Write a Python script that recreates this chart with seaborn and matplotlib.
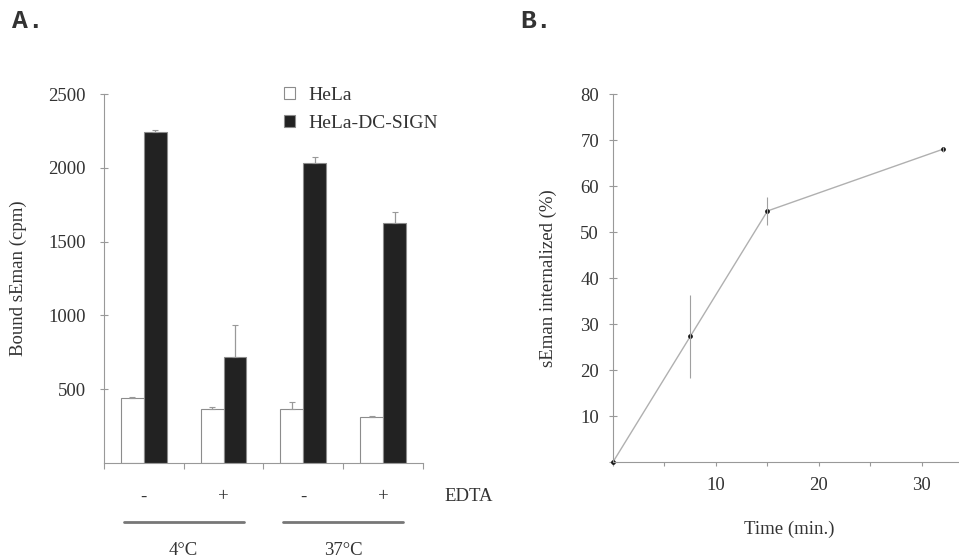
import pandas as pd
import numpy as np
import seaborn as sns
import matplotlib.pyplot as plt
from matplotlib.transforms import blended_transform_factory

# Panel A: bound sEman (cpm)
conditions = ['4-', '4+', '37-', '37+']
edta_signs = ['-', '+', '-', '+']
temps = ['4°C', '37°C']
cells = ['HeLa', 'HeLa-DC-SIGN']
hela_cpm = [440, 365, 365, 312]
hela_err = [10, 15, 47, 5]
dcsign_cpm = [2245, 718, 2033, 1626]
dcsign_err = [12, 217, 40, 75]

# Panel B: internalization over time
time_min = [0, 7.5, 15, 32]
internalized = [0, 27.3, 54.6, 68]
internalized_err = [0, 9, 3, 0.5]

sns.set_style("ticks")
plt.rcParams['font.family'] = ['Liberation Serif', 'DejaVu Serif']
plt.rcParams['text.color'] = '#333333'
plt.rcParams['axes.labelcolor'] = '#333333'
plt.rcParams['axes.edgecolor'] = '#999999'
plt.rcParams['xtick.color'] = '#999999'
plt.rcParams['ytick.color'] = '#999999'
plt.rcParams['xtick.labelcolor'] = '#333333'
plt.rcParams['ytick.labelcolor'] = '#333333'

fig = plt.figure(figsize=(9.59, 5.59), dpi=100)
ax1 = fig.add_axes([0.1084, 0.1717, 0.3326, 0.660])
ax2 = fig.add_axes([0.6392, 0.1735, 0.3608, 0.658])

df = pd.DataFrame({
    'condition': conditions * 2,
    'cell': [cells[0]] * 4 + [cells[1]] * 4,
    'cpm': hela_cpm + dcsign_cpm,
})
sns.barplot(data=df, x='condition', y='cpm', hue='cell', palette=['white', '#222222'],
            width=0.575, errorbar=None, edgecolor='#8c8c8c', linewidth=0.8, ax=ax1)

# upper-only error bars on top of each bar
for cont, errs in zip(ax1.containers, [hela_err, dcsign_err]):
    xs = [p.get_x() + p.get_width() / 2 for p in cont]
    hs = [p.get_height() for p in cont]
    ax1.errorbar(xs, hs, yerr=[np.zeros(len(errs)), errs], fmt='none',
                 ecolor='#999999', elinewidth=0.9, capsize=2, capthick=0.8)

ax1.set_xlim(-0.5, 3.5)
ax1.set_ylim(0, 2500)
ax1.set_yticks([500, 1000, 1500, 2000, 2500])
ax1.set_xticks([-0.5, 0.5, 1.5, 2.5, 3.5])
ax1.set_xticklabels([])
ax1.set_xlabel('')
ax1.set_ylabel('Bound sEman (cpm)', fontsize=13.5)
ax1.yaxis.set_label_coords(-0.241, 0.5)
ax1.tick_params(axis='y', direction='inout', length=6, width=0.8, labelsize=13.5, pad=10)
ax1.tick_params(axis='x', direction='out', length=4, width=0.8)
sns.despine(ax=ax1)

handles, labels = ax1.get_legend_handles_labels()
ax1.legend(handles, labels, loc='upper left', bbox_to_anchor=(0.535, 1.045), frameon=False,
           handlelength=0.55, handleheight=0.55, handletextpad=0.7, labelspacing=0.55,
           borderpad=0, fontsize=14)

tr = blended_transform_factory(ax1.transData, ax1.transAxes)
for i, s in enumerate(edta_signs):
    ax1.text(i, -0.092, s, transform=tr, ha='center', va='center', fontsize=13.5)
ax1.text(4.07, -0.092, 'EDTA', transform=tr, ha='center', va='center', fontsize=13.5)
for k, t in enumerate(temps):
    c = 0.5 + 2 * k
    ax1.plot([c - 0.75, c + 0.75], [-0.16, -0.16], transform=tr, color='#777777',
             lw=2, clip_on=False)
    ax1.text(c, -0.236, t, transform=tr, ha='center', va='center', fontsize=13.5)

# Panel B
sns.lineplot(x=time_min, y=internalized, color='#b0b0b0', lw=1, marker='o', markersize=2.6,
             markerfacecolor='#111111', markeredgecolor='#111111', ax=ax2, clip_on=False)
ax2.errorbar(time_min, internalized, yerr=internalized_err, fmt='none', ecolor='#a0a0a0',
             elinewidth=0.8, capsize=0)
ax2.set_xlim(0, 33.6)
ax2.set_ylim(0, 80)
ax2.set_yticks([0, 10, 20, 30, 40, 50, 60, 70, 80])
ax2.set_yticklabels(['', '10', '20', '30', '40', '50', '60', '70', '80'])
ax2.set_xticks([0, 5, 10, 15, 20, 25, 30])
ax2.set_xticklabels(['', '', '10', '', '20', '', '30'])
ax2.set_ylabel('sEman internalized (%)', fontsize=13.5)
ax2.yaxis.set_label_coords(-0.162, 0.5)
ax2.set_xlabel('Time (min.)', fontsize=13.5)
ax2.xaxis.set_label_coords(0.51, -0.16)
ax2.tick_params(axis='y', direction='inout', length=6, width=0.8, labelsize=13.5, pad=7)
ax2.tick_params(axis='x', direction='out', length=3, width=0.8, labelsize=13.5, pad=8)
sns.despine(ax=ax2)

fig.text(0.012, 0.962, 'A.', fontsize=19, fontweight='bold', family='Liberation Mono',
         ha='left', va='center', color='#333333')
fig.text(0.543, 0.962, 'B.', fontsize=19, fontweight='bold', family='Liberation Mono',
         ha='left', va='center', color='#333333')

fig.savefig('out.png', dpi=100)
